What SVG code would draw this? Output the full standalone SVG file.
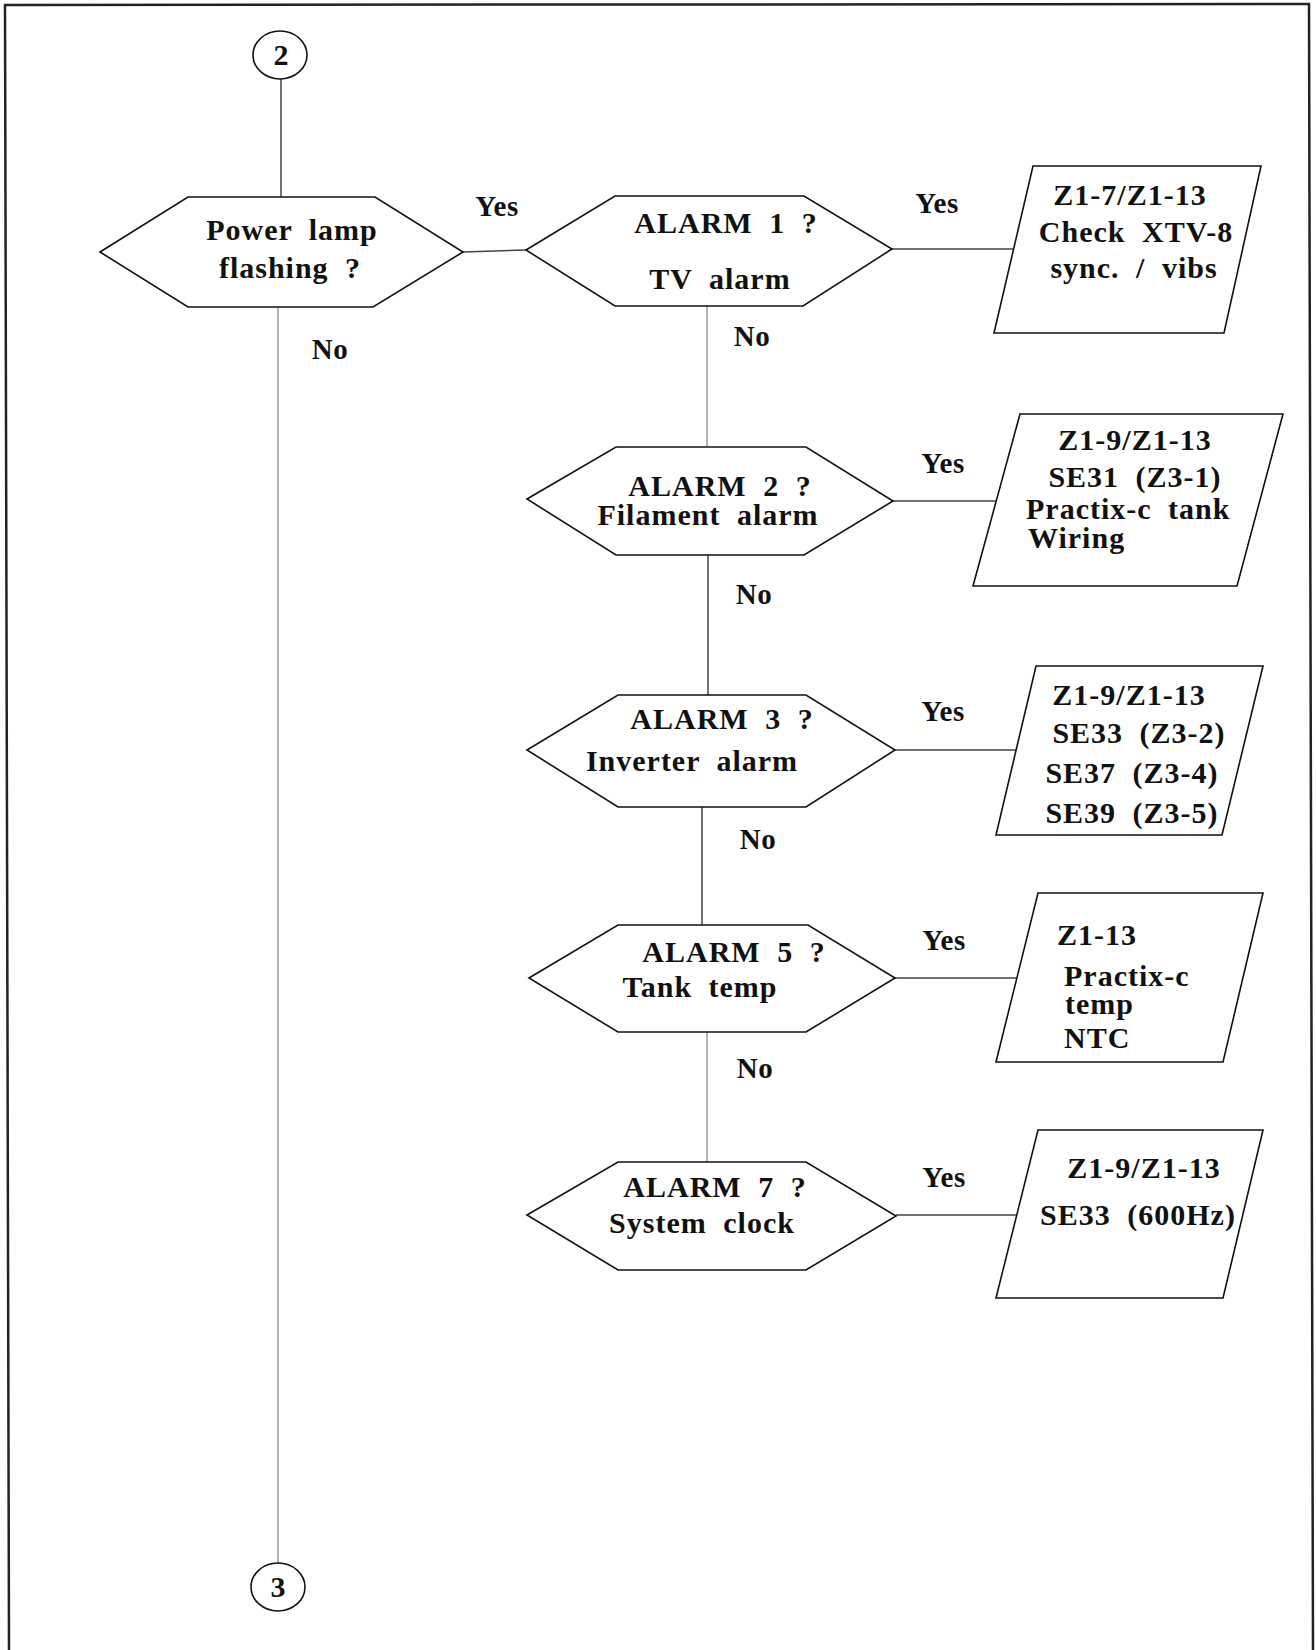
<svg xmlns="http://www.w3.org/2000/svg" width="1316" height="1650" viewBox="0 0 1316 1650">
<style>
.shape{fill:#fff;stroke:#111;stroke-width:1.6}
.conn{fill:none;stroke:#444;stroke-width:1.5}
.light{stroke:#999}
.t{font-family:"Liberation Serif","Times New Roman",serif;font-weight:bold;font-size:30px;letter-spacing:1px;word-spacing:8px;fill:#111}
.m{text-anchor:middle}
.lbl{font-family:"Liberation Serif","Times New Roman",serif;font-weight:bold;font-size:29px;letter-spacing:0.5px;fill:#111;text-anchor:middle}
.frame{fill:none;stroke:#222;stroke-width:2.5}
</style>
<rect width="1316" height="1650" fill="#fff"/>
<g id="frame">
<path class="frame" d="M9,1650 L5,5 L1309,4 L1313,1650"/>
</g>
<g id="connectors">
<line class="conn" x1="281" y1="79" x2="281" y2="197"/>
<line class="conn light" x1="278" y1="307" x2="278" y2="1563"/>
<line class="conn" x1="463" y1="252" x2="526" y2="250"/>
<line class="conn" x1="892" y1="249" x2="1014" y2="249"/>
<line class="conn light" x1="707" y1="306" x2="707" y2="446"/>
<line class="conn" x1="893" y1="501" x2="996" y2="501"/>
<line class="conn" x1="708" y1="555" x2="708" y2="695"/>
<line class="conn" x1="895" y1="750" x2="1016" y2="750"/>
<line class="conn" x1="702" y1="807" x2="702" y2="925"/>
<line class="conn" x1="895" y1="978" x2="1017" y2="978"/>
<line class="conn light" x1="707" y1="1032" x2="707" y2="1162"/>
<line class="conn" x1="896" y1="1215" x2="1017" y2="1215"/>
<text class="lbl" x="497" y="216">Yes</text>
<text class="lbl" x="330" y="359">No</text>
<text class="lbl" x="937" y="213">Yes</text>
<text class="lbl" x="752" y="346">No</text>
<text class="lbl" x="943" y="473">Yes</text>
<text class="lbl" x="754" y="604">No</text>
<text class="lbl" x="943" y="721">Yes</text>
<text class="lbl" x="758" y="849">No</text>
<text class="lbl" x="944" y="950">Yes</text>
<text class="lbl" x="755" y="1078">No</text>
<text class="lbl" x="944" y="1187">Yes</text>
</g>
<g id="connector-2">
<ellipse class="shape" cx="280" cy="55" rx="27" ry="24"/>
<text class="t m" x="281" y="65" style="letter-spacing:0">2</text>
</g>
<g id="connector-3">
<ellipse class="shape" cx="278" cy="1587" rx="27" ry="24"/>
<text class="t m" x="278" y="1597" style="letter-spacing:0">3</text>
</g>
<g id="power-lamp">
<polygon class="shape" points="100,252 188,197 375,197 463,252 373,307 188,307"/>
<text class="t m" x="292" y="240">Power lamp</text>
<text class="t m" x="290" y="278">flashing ?</text>
</g>
<g id="alarm1">
<polygon class="shape" points="526,250 615,196 804,196 892,249 803,306 615,306"/>
<text class="t m" x="726" y="233">ALARM 1 ?</text>
<text class="t m" x="720" y="289">TV alarm</text>
</g>
<g id="result1">
<polygon class="shape" points="1033,166 1261,166 1224,333 994,333"/>
<text class="t m" x="1130" y="205">Z1-7/Z1-13</text>
<text class="t m" x="1136" y="242">Check XTV-8</text>
<text class="t m" x="1134" y="278">sync. / vibs</text>
</g>
<g id="alarm2">
<polygon class="shape" points="527,499 616,447 806,447 893,501 804,555 616,555"/>
<text class="t m" x="720" y="496">ALARM 2 ?</text>
<text class="t m" x="708" y="525">Filament alarm</text>
</g>
<g id="result2">
<polygon class="shape" points="1020,414 1283,414 1237,586 973,586"/>
<text class="t m" x="1135" y="450">Z1-9/Z1-13</text>
<text class="t m" x="1135" y="487">SE31 (Z3-1)</text>
<text class="t" x="1026" y="519">Practix-c tank</text>
<text class="t" x="1028" y="548">Wiring</text>
</g>
<g id="alarm3">
<polygon class="shape" points="527,750 618,695 806,695 895,750 806,807 618,807"/>
<text class="t m" x="722" y="729">ALARM 3 ?</text>
<text class="t m" x="692" y="771">Inverter alarm</text>
</g>
<g id="result3">
<polygon class="shape" points="1036,666 1263,666 1222,835 996,835"/>
<text class="t m" x="1129" y="705">Z1-9/Z1-13</text>
<text class="t m" x="1139" y="743">SE33 (Z3-2)</text>
<text class="t m" x="1132" y="783">SE37 (Z3-4)</text>
<text class="t m" x="1132" y="823">SE39 (Z3-5)</text>
</g>
<g id="alarm5">
<polygon class="shape" points="529,978 618,925 808,925 895,978 806,1032 618,1032"/>
<text class="t m" x="734" y="962">ALARM 5 ?</text>
<text class="t m" x="700" y="997">Tank temp</text>
</g>
<g id="result5">
<polygon class="shape" points="1038,893 1263,893 1223,1062 996,1062"/>
<text class="t" x="1057" y="945">Z1-13</text>
<text class="t" x="1064" y="986">Practix-c</text>
<text class="t" x="1065" y="1014">temp</text>
<text class="t" x="1064" y="1048">NTC</text>
</g>
<g id="alarm7">
<polygon class="shape" points="527,1215 618,1162 806,1162 896,1216 806,1270 618,1270"/>
<text class="t m" x="715" y="1197">ALARM 7 ?</text>
<text class="t m" x="702" y="1233">System clock</text>
</g>
<g id="result7">
<polygon class="shape" points="1038,1130 1263,1130 1223,1298 996,1298"/>
<text class="t m" x="1144" y="1178">Z1-9/Z1-13</text>
<text class="t m" x="1138" y="1225">SE33 (600Hz)</text>
</g>
</svg>
